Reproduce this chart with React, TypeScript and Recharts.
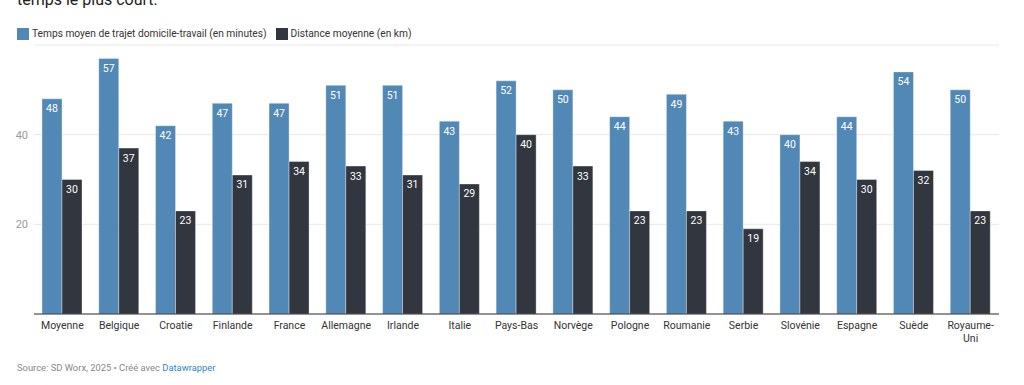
import React from "react";
import { BarChart, Bar, XAxis, YAxis, CartesianGrid, LabelList } from "recharts";

const countries = [
  "Moyenne",
  "Belgique",
  "Croatie",
  "Finlande",
  "France",
  "Allemagne",
  "Irlande",
  "Italie",
  "Pays-Bas",
  "Norvège",
  "Pologne",
  "Roumanie",
  "Serbie",
  "Slovénie",
  "Espagne",
  "Suède",
  "Royaume-Uni",
];
const commuteMinutes = [48, 57, 42, 47, 47, 51, 51, 43, 52, 50, 44, 49, 43, 40, 44, 54, 50];
const distanceKm = [30, 37, 23, 31, 34, 33, 31, 29, 40, 33, 23, 23, 19, 34, 30, 32, 23];
const yTicks = [20, 40];

const series = [
  { key: "minutes", name: "Temps moyen de trajet domicile-travail (en minutes)", color: "#5288b5" },
  { key: "km", name: "Distance moyenne (en km)", color: "#31363f" },
];

const data = countries.map((c, i) => ({
  country: c,
  minutes: commuteMinutes[i],
  km: distanceKm[i],
}));

const font = "Roboto, 'Noto Sans', Arial, sans-serif";

function CountryTick(props: any) {
  const { x, y, payload } = props;
  const label: string = payload.value;
  // long hyphenated names wrap after the hyphen
  const lines =
    label.length > 9 && label.includes("-")
      ? [label.slice(0, label.indexOf("-") + 1), label.slice(label.indexOf("-") + 1)]
      : [label];
  return (
    <text x={x} y={y} textAnchor="middle" fill="#333" fontSize={10.5} fontFamily={font}>
      {lines.map((l, i) => (
        <tspan key={i} x={x} dy={i === 0 ? 7 : 13}>
          {l}
        </tspan>
      ))}
    </text>
  );
}

export default function App() {
  return (
    <div
      style={{
        position: "fixed",
        left: 0,
        top: 0,
        width: 1024,
        height: 385,
        background: "#fff",
        fontFamily: font,
        overflow: "hidden",
      }}
    >
      <div
        style={{
          position: "absolute",
          left: 17,
          top: -8,
          fontSize: 16,
          lineHeight: "16px",
          color: "#222",
          whiteSpace: "nowrap",
        }}
      >
        temps le plus court.
      </div>

      <div
        style={{
          position: "absolute",
          left: 17,
          top: 28,
          display: "flex",
          alignItems: "center",
          fontSize: 10.2,
          color: "#333",
          lineHeight: "12px",
        }}
      >
        {series.map((s) => (
          <div key={s.key} style={{ display: "flex", alignItems: "center", marginRight: 9 }}>
            <span
              style={{ display: "inline-block", width: 12, height: 12, background: s.color, marginRight: 3 }}
            />
            <span>{s.name}</span>
          </div>
        ))}
      </div>

      <div style={{ position: "absolute", left: 0, top: 0 }}>
        <BarChart
          width={1024}
          height={385}
          data={data}
          margin={{ top: 45, right: 25, bottom: 41, left: 6 }}
          barGap={0}
          barSize={20}
        >
          <CartesianGrid horizontal vertical={false} stroke="#e8e8e8" />
          <XAxis
            dataKey="country"
            interval={0}
            height={30}
            tickLine={false}
            axisLine={{ stroke: "#333" }}
            tick={<CountryTick />}
          />
          <YAxis
            width={28}
            domain={[0, 60]}
            ticks={yTicks}
            axisLine={false}
            tickLine={false}
            tickSize={0}
            tickMargin={6}
            tick={{ fill: "#999", fontSize: 11, fontFamily: font }}
          />
          {series.map((s) => (
            <Bar
              key={s.key}
              dataKey={s.key}
              name={s.name}
              fill={s.color}
              stroke="rgba(255,255,255,0.35)"
              strokeWidth={1}
              isAnimationActive={false}
            >
              <LabelList
                dataKey={s.key}
                position="insideTop"
                offset={6}
                fill="#fff"
                fontSize={10.5}
                fontFamily={font}
              />
            </Bar>
          ))}
        </BarChart>
      </div>

      <div
        style={{
          position: "absolute",
          left: 17,
          top: 362,
          fontSize: 9.4,
          color: "#888",
          whiteSpace: "nowrap",
        }}
      >
        Source: SD Worx, 2025 • Créé avec <span style={{ color: "#2f86c8" }}>Datawrapper</span>
      </div>
    </div>
  );
}
